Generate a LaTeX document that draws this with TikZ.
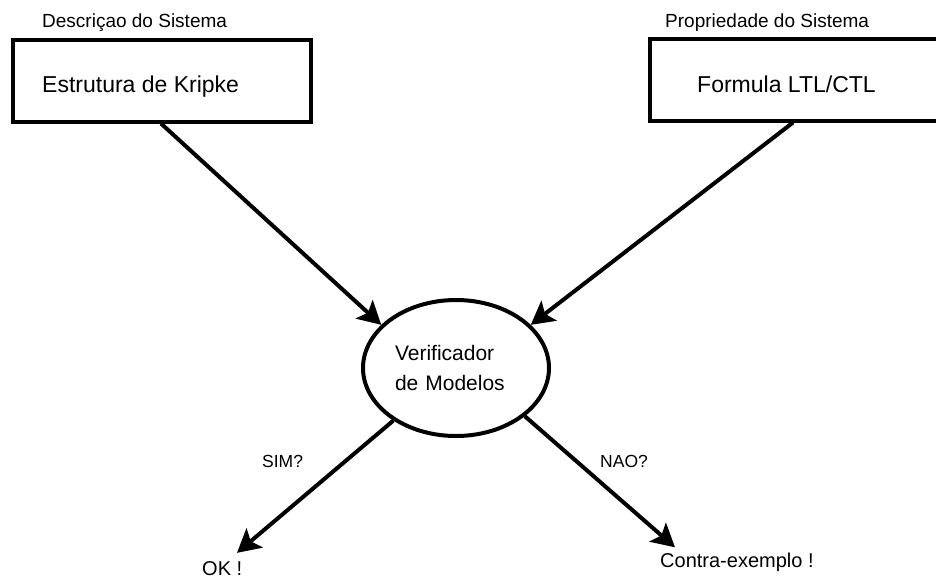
\documentclass[tikz,border=0pt]{standalone}
\usepackage{fontspec}
\setmainfont{Liberation Sans}
\usetikzlibrary{shapes.geometric,arrows.meta}
\begin{document}
\begin{tikzpicture}[x=1pt,y=-1pt,
  boxtext/.style={font=\fontsize{23}{28}\selectfont},
  midtext/.style={font=\fontsize{21}{30}\selectfont},
  restext/.style={font=\fontsize{20}{24}\selectfont},
  toptext/.style={font=\fontsize{19}{22}\selectfont},
  edgetext/.style={font=\fontsize{17.5}{20}\selectfont},
  txt/.style={inner sep=0pt,anchor=base west},
  inbox/.style={draw,line width=4pt,minimum width=#1,minimum height=82pt,inner sep=0pt},
  arr/.style={line width=4pt,-{Stealth[length=23pt,width=25pt,inset=5pt]}}]
  \useasboundingbox (0,0) rectangle (936,579);
  % input boxes
  \node[inbox=298pt] (kripke) at (162,80.5) {};
  \node[inbox=296pt] (formula) at (798,79.5) {};
  \node[txt,boxtext] (kripketxt) at (42,92) {Estrutura de Kripke};
  \node[txt,boxtext] (formulatxt) at (697,92) {Formula LTL/CTL};
  \node[txt,toptext] (desc) at (42,27) {Descriçao do Sistema};
  \node[txt,toptext] (prop) at (665,27) {Propriedade do Sistema};
  % model checker
  \node[draw,ellipse,line width=4pt,minimum width=186pt,minimum height=136pt,
        text width=122pt,align=left,midtext,inner sep=0pt] (verif) at (456,368)
        {Verificador\\de Modelos};
  % results
  \node[txt,restext] (ok) at (202,575) {OK !};
  \node[txt,restext] (contra) at (660,567) {Contra-exemplo !};
  \node[txt,edgetext] (sim) at (262,467) {SIM?};
  \node[txt,edgetext] (nao) at (600,467) {NAO?};
  % connectors
  \draw[arr] ([xshift=150pt]kripke.south west) -- (verif.150);
  \draw[arr] ([xshift=145pt]formula.south west) -- (verif.30);
  \draw[arr] (verif.220) -- ([xshift=35pt,yshift=8pt]ok.north west);
  \draw[arr] (verif.325) -- ([xshift=15pt,yshift=5pt]contra.north west);
\end{tikzpicture}
\end{document}
